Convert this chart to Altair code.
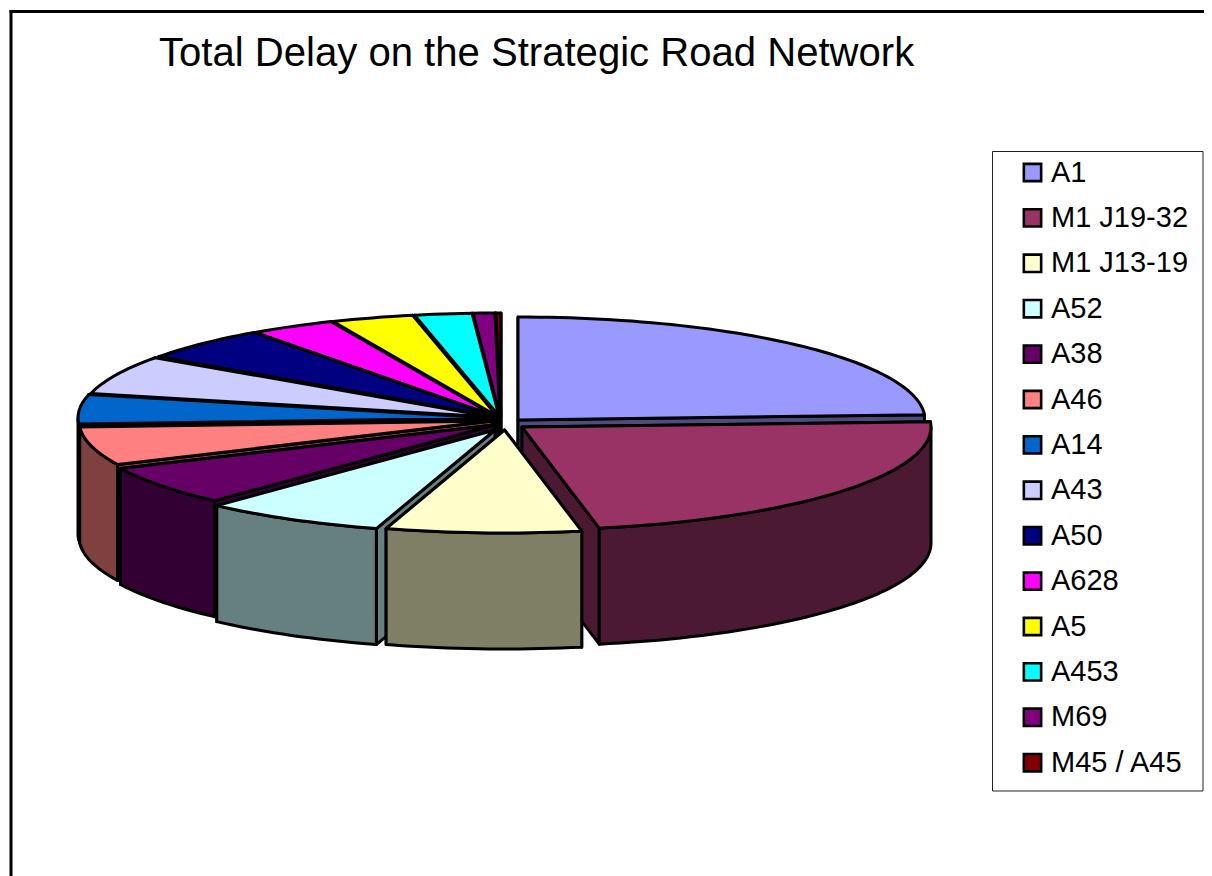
import math
import altair as alt

# ---- values (share of total delay, %)
names = ["A1", "M1 J19-32", "M1 J13-19", "A52", "A38", "A46", "A14", "A43",
         "A50", "A628", "A5", "A453", "M69", "M45 / A45"]
values = [24.2, 22.8, 7.7, 7.2, 6.2, 6.0, 4.6, 6.1, 5.3, 3.4, 3.25, 2.25, 0.85, 0.2]
colors = ["#9999FF", "#993366", "#FFFFCC", "#CCFFFF", "#660066", "#FF8080", "#0066CC",
          "#CCCCFF", "#000080", "#FF00FF", "#FFFF00", "#00FFFF", "#800080", "#800000"]
title_text = "Total Delay on the Strategic Road Network"

# ---- pie drawing set-up
apex = [(518, 420, 407), (522, 427, 409), (504.5, 430, 409), (495, 430, 410),
        (494, 425, 412), (492, 421, 413), (492, 418, 414), (493, 417, 413),
        (494, 416, 410), (495, 416, 410), (497, 416, 410), (499, 416, 410),
        (500, 416, 410), (501, 416, 410)]
RY = 103
DEPTH = 116
W, H = 1196, 868


def px(x):
    return x - 8


def py(y):
    return y - 8


def darker(c):
    return "#" + "".join("%02X" % (int(c[i:i + 2], 16) // 2) for i in (1, 3, 5))


def rim(i, t):
    ax, ay, rx = apex[i]
    a = math.radians(t)
    return [ax + rx * math.sin(a), ay - RY * math.cos(a)]


def arc(i, t0, t1):
    n = max(2, int(abs(t1 - t0) / 1.5) + 2)
    return [rim(i, t0 + (t1 - t0) * k / (n - 1)) for k in range(n)]


def down(p):
    return [p[0], p[1] + DEPTH]


def feature(name, ring):
    ring = [[px(p[0]), py(p[1])] for p in ring + [ring[0]]]
    return {"type": "Feature", "properties": {"name": name},
            "geometry": {"type": "Polygon", "coordinates": [ring]}}


total = sum(values)
edges = [0.0]
for v in values:
    edges.append(edges[-1] + v / total * 360)

order = sorted(range(len(names)),
               key=lambda i: -math.cos(math.radians((edges[i] + edges[i + 1]) / 2)))
features = []
for i in order:
    t0, t1 = edges[i], edges[i + 1]
    c = [apex[i][0], apex[i][1]]
    side = names[i] + " side"
    for t in sorted((t0, t1), key=lambda t: rim(i, t)[1]):
        p = rim(i, t)
        features.append(feature(side, [c, p, down(p), down(c)]))
    lo, hi = max(t0, 90), min(t1, 270)
    if hi > lo:
        top_edge = arc(i, lo, hi)
        features.append(feature(side, top_edge + [down(p) for p in reversed(top_edge)]))
    features.append(feature(names[i], [c] + arc(i, t0, t1)))

one = alt.Data(values=[{"a": 1}])

legend_box = alt.Chart(one).mark_rect(fill="white", stroke="#222222", strokeWidth=1).encode(
    x=alt.value(px(992.5)), x2=alt.value(px(1203)), y=alt.value(py(151.5)), y2=alt.value(py(791)))

pie = alt.Chart(alt.Data(values=features)).mark_geoshape(
    stroke="black", strokeWidth=3, strokeJoin="round", opacity=1
).encode(
    color=alt.Color(
        "properties.name:N",
        scale=alt.Scale(domain=names + [n + " side" for n in names],
                        range=colors + [darker(c) for c in colors]),
        legend=alt.Legend(
            values=names, title=None, orient="none", legendX=px(1018), legendY=py(158),
            padding=0,
            symbolType="square", symbolSize=300, symbolStrokeColor="black",
            symbolStrokeWidth=2.6, symbolOpacity=1,
            labelFont="Liberation Sans", labelFontSize=29, labelColor="black",
            labelLimit=300, labelOffset=4, rowPadding=15.4,
        ),
    )
).project(type="identity", scale=1, translate=[0, 0])

title = alt.Chart(alt.Data(values=[{"t": title_text}])).mark_text(
    font="Liberation Sans", fontSize=40.1, align="left", baseline="alphabetic", color="black"
).encode(text="t:N", x=alt.value(px(159)), y=alt.value(py(66)))

left_line = alt.Chart(one).mark_rule(color="black", strokeWidth=3).encode(
    x=alt.value(px(11)), y=alt.value(py(10)), y2=alt.value(H))
top_line = alt.Chart(one).mark_rule(color="black", strokeWidth=3).encode(
    y=alt.value(py(11.5)), x=alt.value(px(9.5)), x2=alt.value(W))

chart = alt.layer(legend_box, pie, title, left_line, top_line).properties(
    width=W, height=H, padding=0, background="white",
    autosize=alt.AutoSizeParams(type="none"),
).configure_view(stroke=None)

chart.save("out.html", embed_options={"renderer": "svg", "actions": False})
